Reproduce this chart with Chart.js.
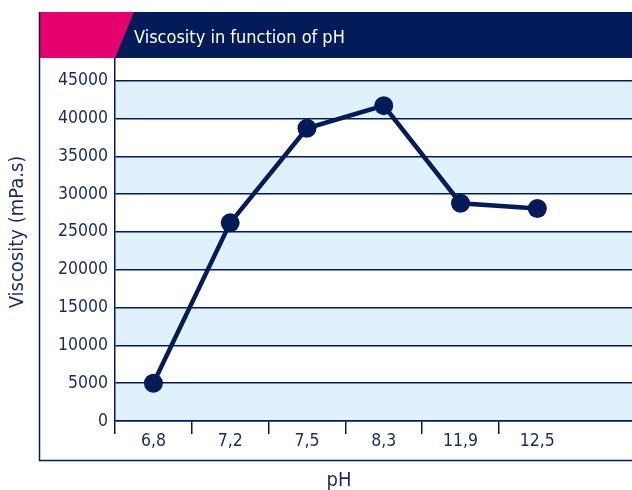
<!DOCTYPE html>
<html>
<head>
<meta charset="utf-8">
<script src="https://cdn.jsdelivr.net/npm/chart.js@4"></script>
<style>
html, body { margin: 0; padding: 0; background: #fff; overflow: hidden; }
</style>
</head>
<body>
<canvas id="myChart" width="662" height="490"></canvas>
<script>
var phLabels = ['6,8', '7,2', '7,5', '8,3', '11,9', '12,5'];
var viscosity = [5000, 26200, 38700, 41700, 28800, 28100];
var yTicks = [0, 5000, 10000, 15000, 20000, 25000, 30000, 35000, 40000, 45000];

var navy = '#031c59';
var textNavy = '#1a2a5c';
var band = '#dff1fa';
var pink = '#e6006e';
var fam = '"DejaVu Sans Condensed", "DejaVu Sans"';

// bands, title bar, frame and the axis titles
var decor = {
    id: 'decor',
    beforeDraw: function(chart) {
        var c = chart.ctx, a = chart.chartArea, y = chart.scales.y;
        c.save();
        c.fillStyle = band;
        for (var i = 0; i + 1 < yTicks.length; i += 2) {
            var top = y.getPixelForValue(yTicks[i + 1]);
            var bot = y.getPixelForValue(yTicks[i]);
            c.fillRect(a.left, top, a.right - a.left, bot - top);
        }
        c.restore();
    },
    afterDraw: function(chart) {
        var c = chart.ctx;
        c.save();
        c.fillStyle = navy;
        c.fillRect(40, 12, chart.width - 40, 46);
        c.fillStyle = pink;
        c.beginPath();
        c.moveTo(40, 12);
        c.lineTo(134, 12);
        c.lineTo(115, 58);
        c.lineTo(40, 58);
        c.closePath();
        c.fill();
        c.fillStyle = '#fff';
        c.font = '18px ' + fam;
        c.textBaseline = 'alphabetic';
        c.fillText('Viscosity in function of pH', 134, 42.5);

        c.strokeStyle = navy;
        c.lineWidth = 1.5;
        c.beginPath();
        c.moveTo(39.5, 12);
        c.lineTo(39.5, 460.5);
        c.lineTo(chart.width, 460.5);
        c.stroke();

        c.fillStyle = textNavy;
        c.font = '20px ' + fam;
        c.textAlign = 'center';
        c.textBaseline = 'middle';
        c.fillText('pH', 339, 481);

        c.translate(18, 232);
        c.rotate(-Math.PI / 2);
        c.fillText('Viscosity (mPa.s)', 0, 0);
        c.restore();
    }
};

var ctx = document.getElementById('myChart').getContext('2d');
var myChart = new Chart(ctx, {
    type: 'line',
    data: {
        labels: phLabels.concat(['']),
        datasets: [{
            data: viscosity,
            borderColor: navy,
            backgroundColor: navy,
            borderWidth: 4.5,
            pointRadius: 9.5,
            pointBorderWidth: 0,
            pointBackgroundColor: navy,
            tension: 0,
            fill: false
        }]
    },
    options: {
        responsive: false,
        animation: false,
        layout: { padding: { top: 58, left: 0, right: 0, bottom: 0 } },
        plugins: {
            legend: { display: false },
            tooltip: { enabled: false }
        },
        scales: {
            x: {
                type: 'category',
                offset: true,
                afterFit: function(s) { s.height = 69; },
                grid: {
                    offset: true,
                    drawOnChartArea: false,
                    tickLength: 13,
                    lineWidth: 1.5,
                    color: function(c) { return c.index <= 5 ? navy : 'rgba(0,0,0,0)'; }
                },
                border: { display: true, color: navy, width: 1.5 },
                ticks: {
                    color: textNavy,
                    font: { family: fam, size: 17.5 },
                    padding: -3,
                    maxRotation: 0,
                    autoSkip: false
                }
            },
            y: {
                min: 0,
                max: 48000,
                afterBuildTicks: function(axis) {
                    axis.ticks = yTicks.map(function(v) { return { value: v }; });
                },
                afterFit: function(s) { s.width = 115; },
                grid: { color: navy, lineWidth: 1.5, drawTicks: false },
                border: { display: true, color: navy, width: 1.5 },
                ticks: {
                    color: textNavy,
                    font: { family: fam, size: 17.5 },
                    padding: 7,
                    callback: function(v) { return String(v); }
                }
            }
        }
    },
    plugins: [decor]
});
</script>
</body>
</html>
